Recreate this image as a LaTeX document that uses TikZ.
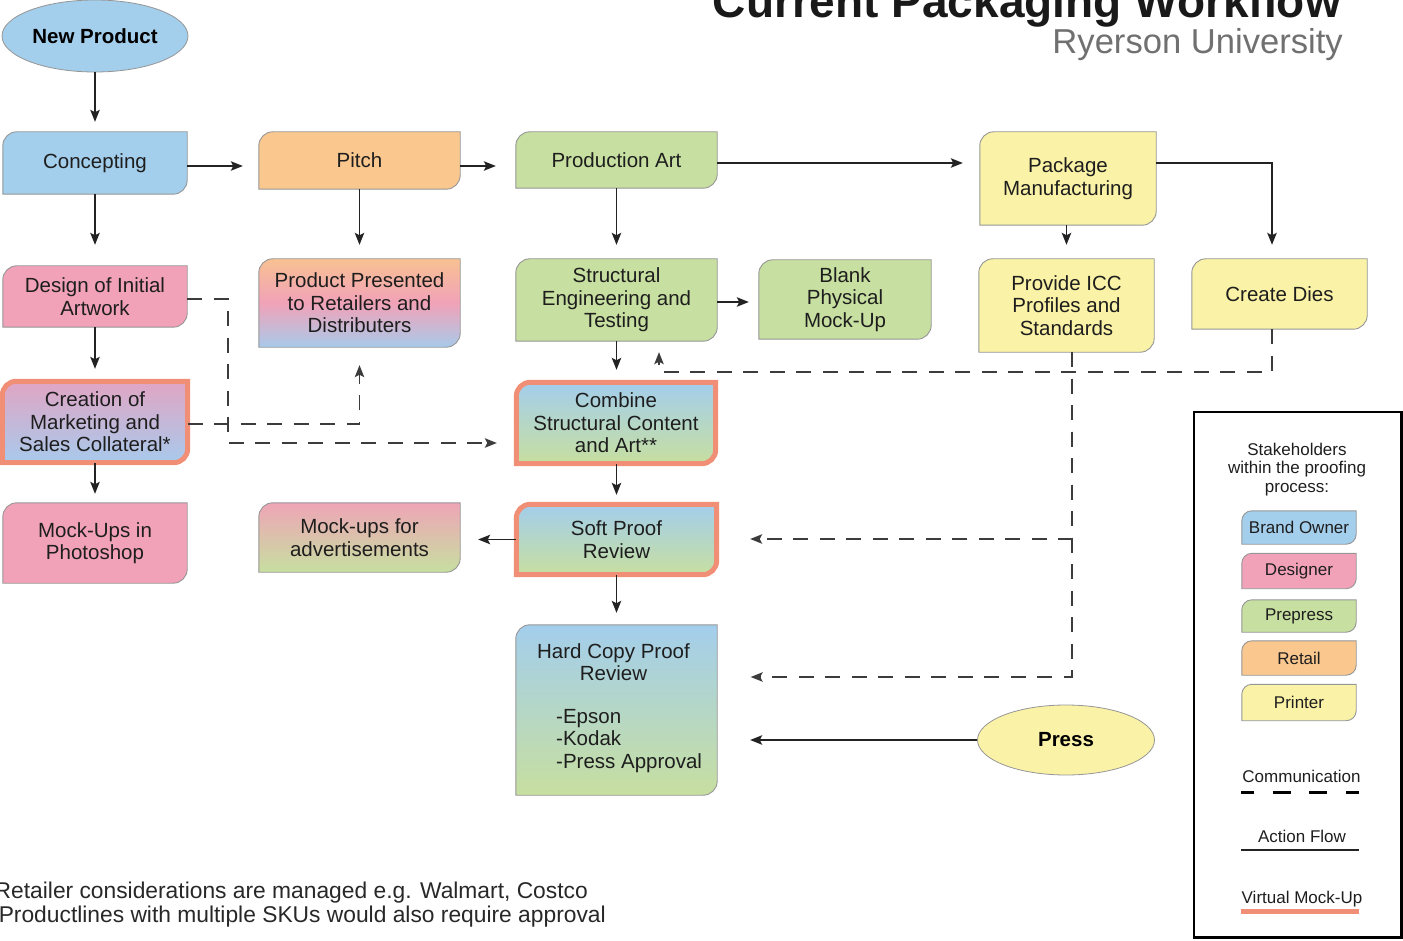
\documentclass[tikz,border=0pt]{standalone}
\usepackage{fontspec}
\setmainfont{Liberation Sans}
\usetikzlibrary{arrows.meta,backgrounds,shapes.geometric}

\definecolor{cblue}{RGB}{163,206,236}
\definecolor{cpink}{RGB}{241,162,184}
\definecolor{cgreen}{RGB}{199,223,160}
\definecolor{corange}{RGB}{250,199,143}
\definecolor{cyellow}{RGB}{250,242,166}
\definecolor{cedge}{RGB}{150,150,150}
\definecolor{cvirt}{RGB}{241,143,118}
\definecolor{ctext}{RGB}{30,30,30}
\definecolor{cline}{RGB}{35,35,35}
\definecolor{cdash}{RGB}{60,60,60}
\definecolor{cgray}{RGB}{112,112,112}

% tab-shaped outline: rounded top-left and bottom-right corners
\newcommand\tabshape[3]{%
  \path[#3] (#1.south west) -- ([yshift=-#2]#1.north west)
    arc[start angle=180,end angle=90,radius=#2] -- (#1.north east)
    -- ([yshift=#2]#1.south east)
    arc[start angle=0,end angle=-90,radius=#2] -- cycle;}

\tikzset{
  box/.style={inner sep=0pt, align=center, text=ctext,
    font=\fontsize{20.5}{22.5}\selectfont},
  lbox/.style={inner sep=0pt, align=center, text=ctext,
    minimum width=114pt, font=\fontsize{17}{19}\selectfont},
  oval/.style={ellipse, draw=cedge, line width=0.8pt, inner sep=0pt,
    text=black, font=\fontsize{20.5}{22.5}\selectfont\bfseries},
  flow/.style={draw=cline, line width=1.3pt,
    -{Stealth[length=12pt,width=9.5pt,inset=2.5pt]}},
  comm/.style={draw=cdash, line width=1.4pt, dash pattern=on 15pt off 11.5pt,
    -{Stealth[length=12pt,width=9.5pt,inset=2.5pt]}},
  plain/.style={draw=cedge, line width=0.9pt},
  virt/.style={draw=cvirt, line width=5pt},
}

\begin{document}
\begin{tikzpicture}[x=1pt,y=-1pt]
\useasboundingbox (0,0) rectangle (1403,941);

% titles
\node[anchor=base east, inner sep=0pt, text={rgb,255:red,25;green,25;blue,25},
  font=\fontsize{46}{50}\selectfont\bfseries] (title) at (1341,18) {Current Packaging Workflow};
\node[anchor=base east, inner sep=0pt, text=cgray,
  font=\fontsize{34.6}{38}\selectfont] (subtitle) at (1343,54) {Ryerson University};

% ellipses
\node[oval, fill=cblue, minimum width=186pt, minimum height=72pt] (newp) at (95,36) {New Product};
\node[oval, fill=cyellow, minimum width=177pt, minimum height=70pt] (press) at (1066,740) {Press};

% boxes
\node[box, minimum width=184pt, minimum height=62pt] (concepting) at (95,163) {Concepting};
\node[box, minimum width=201pt, minimum height=57pt] (pitch) at (359.5,160.5) {Pitch};
\node[box, minimum width=201pt, minimum height=56pt] (prodart) at (616.5,160) {Production Art};
\node[box, minimum width=176pt, minimum height=93pt] (pkgman) at (1068,178.5) {Package\\Manufacturing};

\node[box, minimum width=184pt, minimum height=61pt] (design) at (95,296.5) {Design of Initial\\Artwork};
\node[box, minimum width=201pt, minimum height=88pt] (presented) at (359.5,303) {Product Presented\\to Retailers and\\Distributers};
\node[box, minimum width=201pt, minimum height=82pt] (structural) at (616.5,300) {Structural\\Engineering and\\Testing};
\node[box, minimum width=172pt, minimum height=79pt] (blank) at (845,299.5) {Blank\\Physical\\Mock-Up};
\node[box, minimum width=175pt, minimum height=93pt] (icc) at (1066.5,305.5) {Provide ICC\\Profiles and\\Standards};
\node[box, minimum width=175pt, minimum height=70pt] (dies) at (1279.5,294) {Create Dies};

\node[box, minimum width=185pt, minimum height=81pt] (creation) at (95,422) {Creation of\\Marketing and\\Sales Collateral*};
\node[box, minimum width=199pt, minimum height=81pt] (combine) at (616,423) {Combine\\Structural Content\\and Art**};

\node[box, minimum width=184pt, minimum height=80pt] (mockps) at (95,543) {Mock-Ups in\\Photoshop};
\node[box, minimum width=201pt, minimum height=69pt] (mockads) at (359.5,537.5) {Mock-ups for\\advertisements};
\node[box, minimum width=200pt, minimum height=70pt] (softproof) at (616.5,539.5) {Soft Proof\\Review};

\node[box, minimum width=201pt, minimum height=170pt] (hardcopy) at (616.5,710) {};
\node[box] (hctitle) at (613.5,662) {Hard Copy Proof\\Review};
\node[box, anchor=west, align=left] (hclist) at (556,741) {-Epson\\-Kodak\\-Press Approval};

% legend
\node[draw=black, line width=2.5pt, inner sep=0pt, minimum width=207.5pt,
  minimum height=525.5pt] (legend) at (1297.75,674.75) {};
\node[lbox, font=\fontsize{17}{18.5}\selectfont] (stake) at (1297,469.5) {Stakeholders\\within the proofing\\process:};
\node[lbox, minimum height=33pt] (lbrand) at (1299,527.5) {Brand Owner};
\node[lbox, minimum height=35pt] (ldesigner) at (1299,571) {Designer};
\node[lbox, minimum height=32pt] (lprepress) at (1299,616) {Prepress};
\node[lbox, minimum height=34pt] (lretail) at (1299,658) {Retail};
\node[lbox, minimum height=36pt] (lprinter) at (1299,702.5) {Printer};
\node[lbox, anchor=base] (lcomm) at (1301.5,782) {Communication};
\node[lbox, anchor=base] (lflow) at (1302,842) {Action Flow};
\node[lbox, anchor=base] (lvirt) at (1302,903) {Virtual Mock-Up};
\coordinate (lcommA) at (1241,792);
\coordinate (lcommB) at (1359,792);
\coordinate (lflowA) at (1241,850);
\coordinate (lflowB) at (1359,850);
\coordinate (lvirtA) at (1241,911);
\coordinate (lvirtB) at (1359,911);
\draw[black, line width=3pt, dash pattern=on 18pt off 18.67pt, dash phase=5pt] (lcommA) -- (lcommB);
\draw[cline, line width=2.5pt] (lflowA) -- (lflowB);
\draw[cvirt, line width=5pt] (lvirtA) -- (lvirtB);

% footnotes
\node[anchor=base east, inner sep=0pt, text={rgb,255:red,40;green,40;blue,40},
  font=\fontsize{22.8}{25}\selectfont] (note1) at (588,898) {Retailer considerations are managed e.g. Walmart, Costco};
\node[anchor=base east, inner sep=0pt, text={rgb,255:red,40;green,40;blue,40},
  font=\fontsize{22.8}{25}\selectfont] (note2) at (606,922) {Productlines with multiple SKUs would also require approval};

% shapes behind text
\begin{pgfonlayer}{background}
\tabshape{concepting}{14pt}{plain, fill=cblue}
\tabshape{pitch}{14pt}{plain, fill=corange}
\tabshape{prodart}{14pt}{plain, fill=cgreen}
\tabshape{pkgman}{14pt}{plain, fill=cyellow}
\tabshape{design}{14pt}{plain, fill=cpink}
\tabshape{presented}{14pt}{plain, top color={rgb,255:red,248;green,193;blue,146}, bottom color={rgb,255:red,168;green,202;blue,234}, middle color=cpink}
\tabshape{structural}{14pt}{plain, fill=cgreen}
\tabshape{blank}{14pt}{plain, fill=cgreen}
\tabshape{icc}{14pt}{plain, fill=cyellow}
\tabshape{dies}{14pt}{plain, fill=cyellow}
\tabshape{creation}{14pt}{virt, top color={rgb,255:red,225;green,165;blue,196}, bottom color={rgb,255:red,168;green,202;blue,236}}
\tabshape{combine}{14pt}{virt, top color=cblue, bottom color=cgreen}
\tabshape{mockps}{14pt}{plain, fill=cpink}
\tabshape{mockads}{14pt}{plain, top color={rgb,255:red,238;green,165;blue,182}, bottom color=cgreen}
\tabshape{softproof}{14pt}{virt, top color=cblue, bottom color=cgreen}
\tabshape{hardcopy}{14pt}{plain, top color=cblue, bottom color=cgreen}
\tabshape{lbrand}{10pt}{plain, fill=cblue}
\tabshape{ldesigner}{10pt}{plain, fill=cpink}
\tabshape{lprepress}{10pt}{plain, fill=cgreen}
\tabshape{lretail}{10pt}{plain, fill=corange}
\tabshape{lprinter}{10pt}{plain, fill=cyellow}
\end{pgfonlayer}

% action flow
\draw[flow, shorten >=10pt] (newp.south) -- (concepting.north);
\draw[flow, shorten >=16pt] (concepting.east |- 0,166) -- (pitch.west |- 0,166);
\draw[flow, shorten >=20pt] (pitch.east |- 0,166) -- (prodart.west |- 0,166);
\draw[flow, shorten >=17pt] (prodart.east |- 0,163) -- (pkgman.west |- 0,163);
\draw[flow, shorten >=14pt] (pkgman.east |- 0,163) -| ([xshift=-7.5pt]dies.north);
\draw[flow, shorten >=14pt] (icc.north |- pkgman.south) -- (icc.north);
\draw[flow, shorten >=21pt] (concepting.south) -- (design.north);
\draw[flow, shorten >=14pt] (pitch.south) -- (presented.north);
\draw[flow, shorten >=14pt] (prodart.south) -- (structural.north);
\draw[flow, shorten >=10pt] (structural.east |- 0,302) -- (blank.west |- 0,302);
\draw[flow, shorten >=12.5pt] (structural.south) -- (combine.north -| structural.south);
\draw[flow, shorten >=12.5pt] (design.south) -- (creation.north);
\draw[flow, shorten >=9pt] (creation.south) -- (mockps.north);
\draw[flow, shorten >=9.5pt] (combine.south -| softproof.north) -- (softproof.north);
\draw[flow, shorten >=18pt] (softproof.west) -- (mockads.east |- softproof.west);
\draw[flow, shorten >=12pt] (softproof.south) -- (hardcopy.north);
\draw[flow, shorten >=33pt] (press.west) -- (hardcopy.east |- press.west);

% communication
\draw[comm, shorten >=19.5pt] (design.east |- 0,299) -- (228,299) -- (228,443) -- (combine.west |- 0,443);
\draw[comm, shorten >=18pt] (creation.east |- 0,424) -| (presented.south);
\draw[comm, shorten >=11pt] ([xshift=-7.5pt]dies.south) |- (659,372) -- (659,0 |- structural.south);
\draw[comm, shorten >=33.5pt] ([xshift=5.5pt]icc.south) |- (softproof.east |- 0,539);
\draw[comm, shorten >=33.5pt] ([xshift=5.5pt]icc.south) |- (hardcopy.east |- 0,677);
\end{tikzpicture}
\end{document}
